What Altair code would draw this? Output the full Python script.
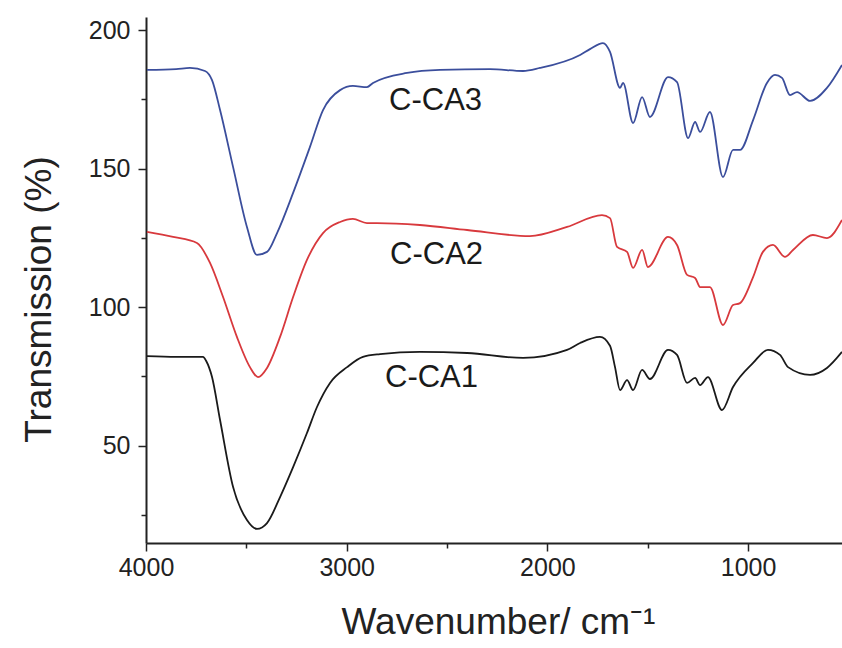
import altair as alt
import pandas as pd

# ---- data ----
wn_ca1 = [3995, 3850, 3716, 3700, 3671, 3631, 3566, 3497, 3447, 3397, 3332, 3267, 3198, 3148, 3083, 2998,
          2919, 2834, 2635, 2400, 2121, 1902, 1837, 1738, 1688, 1663, 1638, 1603, 1573, 1528, 1489, 1399,
          1354, 1304, 1264, 1239, 1200, 1130, 1075, 975, 901, 841, 801, 691, 607, 532]
t_ca1 = [82.3, 82.0, 82.0, 80.5, 74.7, 59.2, 35.0, 23.1, 19.9, 22.0, 31.4, 42.2, 54.5, 63.9, 72.6, 78.3,
         82.0, 83.0, 83.8, 83.4, 81.6, 84.5, 87.0, 89.2, 86.0, 78.3, 70.0, 73.6, 70.0, 77.3, 74.0, 84.5,
         82.7, 72.6, 74.4, 71.8, 74.7, 62.8, 71.1, 79.8, 84.5, 82.7, 78.3, 75.5, 78.0, 83.8]

wn_ca2 = [3995, 3865, 3746, 3681, 3616, 3547, 3482, 3442, 3397, 3332, 3267, 3198, 3118, 3033, 2969, 2899,
          2849, 2635, 2400, 2087, 1902, 1728, 1688, 1653, 1603, 1573, 1528, 1499, 1399, 1354, 1304, 1264,
          1239, 1190, 1125, 1075, 1040, 975, 926, 876, 816, 776, 677, 607, 532]
t_ca2 = [127.1, 125.3, 123.1, 115.9, 103.6, 89.2, 78.3, 74.7, 78.0, 89.2, 103.6, 117.0, 126.7, 130.7, 131.8, 130.3,
         130.3, 129.6, 127.8, 125.6, 128.9, 133.2, 132.1, 121.7, 119.9, 114.1, 120.6, 114.4, 125.3, 122.4, 111.6, 110.5,
         107.2, 107.2, 93.5, 100.7, 101.4, 110.8, 119.9, 122.4, 118.1, 120.6, 126.0, 124.9, 131.4]

wn_ca3 = [3995, 3850, 3781, 3706, 3671, 3631, 3566, 3497, 3447, 3397, 3347, 3267, 3183, 3118, 3033, 2969,
          2899, 2869, 2699, 2535, 2286, 2121, 2037, 1837, 1788, 1723, 1688, 1638, 1623, 1573, 1528, 1489,
          1399, 1354, 1299, 1264, 1239, 1190, 1125, 1075, 1040, 975, 906, 866, 831, 791, 756, 691, 607, 532]
t_ca3 = [185.6, 185.9, 186.3, 185.2, 181.9, 171.1, 150.5, 128.9, 118.8, 119.9, 126.7, 141.2, 157.8, 171.1, 178.3, 179.8,
         179.4, 180.9, 184.5, 185.6, 185.9, 185.2, 186.3, 191.0, 193.1, 195.3, 192.1, 179.1, 180.9, 166.4, 175.8, 168.6,
         183.0, 181.2, 161.0, 166.8, 163.2, 170.4, 146.9, 156.7, 156.7, 167.5, 180.9, 183.8, 182.7, 176.5, 177.6, 174.4, 179.1, 187.4]

series_names = ["C-CA1", "C-CA2", "C-CA3"]
series_colors = ["#1a1a1a", "#d8393d", "#3b4e9c"]

label_text = ["C-CA1", "C-CA2", "C-CA3"]
label_wn = [2809, 2784, 2789]
label_t = [74.2, 118.8, 174.2]

x_major = [4000, 3000, 2000, 1000]
x_minor = [3500, 2500, 1500]
y_major = [50, 100, 150, 200]
y_minor = [25, 75, 125, 175]

# ---- tables ----
df = pd.concat([
    pd.DataFrame({"wn": wn_ca1, "t": t_ca1, "series": "C-CA1"}),
    pd.DataFrame({"wn": wn_ca2, "t": t_ca2, "series": "C-CA2"}),
    pd.DataFrame({"wn": wn_ca3, "t": t_ca3, "series": "C-CA3"}),
], ignore_index=True)
labels = pd.DataFrame({"wn": label_wn, "t": label_t, "label": label_text})

xscale = alt.Scale(domain=[4000, 532], nice=False, zero=False)
yscale = alt.Scale(domain=[14.8, 204.7], nice=False, zero=False)

TICK_FONT = "Liberation Sans"
TITLE_FONT = "Liberation Sans"

lines = alt.Chart(df).mark_line(strokeWidth=1.8, interpolate="monotone").encode(
    x=alt.X("wn:Q", scale=xscale, axis=alt.Axis(
        values=x_major, orient="bottom", title="Wavenumber/ cm⁻¹", format="d",
        labelFont=TICK_FONT, labelFontSize=25, labelColor="#222", labelPadding=4,
        tickSize=8, tickWidth=1.5, tickColor="#222", domainColor="#222", domainWidth=2,
        grid=False, labelFlush=False, labelOverlap=False,
        titleFont=TITLE_FONT, titleFontSize=37, titleFontWeight="normal", titleColor="#222",
        titleX=352, titleY=90, titleBaseline="alphabetic", titleAlign="center")),
    y=alt.Y("t:Q", scale=yscale, axis=alt.Axis(
        values=y_major, orient="left", title="Transmission (%)",
        labelFont=TICK_FONT, labelFontSize=25, labelColor="#222", labelPadding=8,
        tickSize=8, tickWidth=1.5, tickColor="#222", domainColor="#222", domainWidth=2,
        grid=False, labelFlush=False, labelOverlap=False,
        titleFont=TITLE_FONT, titleFontSize=37, titleFontWeight="normal", titleColor="#222",
        titleAngle=270, titleX=-96, titleY=282, titleBaseline="alphabetic", titleAlign="center")),
    color=alt.Color("series:N", scale=alt.Scale(domain=series_names, range=series_colors), legend=None),
    order=alt.Order("wn:Q", sort="descending"),
)

texts = alt.Chart(labels).mark_text(
    align="left", baseline="middle", fontSize=31, font=TICK_FONT, color="#1a1a1a"
).encode(
    x=alt.X("wn:Q", scale=xscale, axis=alt.Axis(
        values=x_minor, orient="bottom", title=None, labels=False, domain=False,
        tickSize=5, tickWidth=1.5, tickColor="#222", grid=False)),
    y=alt.Y("t:Q", scale=yscale, axis=alt.Axis(
        values=y_minor, orient="left", title=None, labels=False, domain=False,
        tickSize=5, tickWidth=1.5, tickColor="#222", grid=False)),
    text="label:N",
)

chart = alt.layer(lines, texts).resolve_axis(x="independent", y="independent").properties(
    width=696, height=526,
    padding={"left": 146, "top": 17, "right": 0, "bottom": 105},
    autosize=alt.AutoSizeParams(type="none"),
    background="white",
).configure_view(stroke=None)

chart.save("out.html", embed_options={"renderer": "svg", "actions": False})
